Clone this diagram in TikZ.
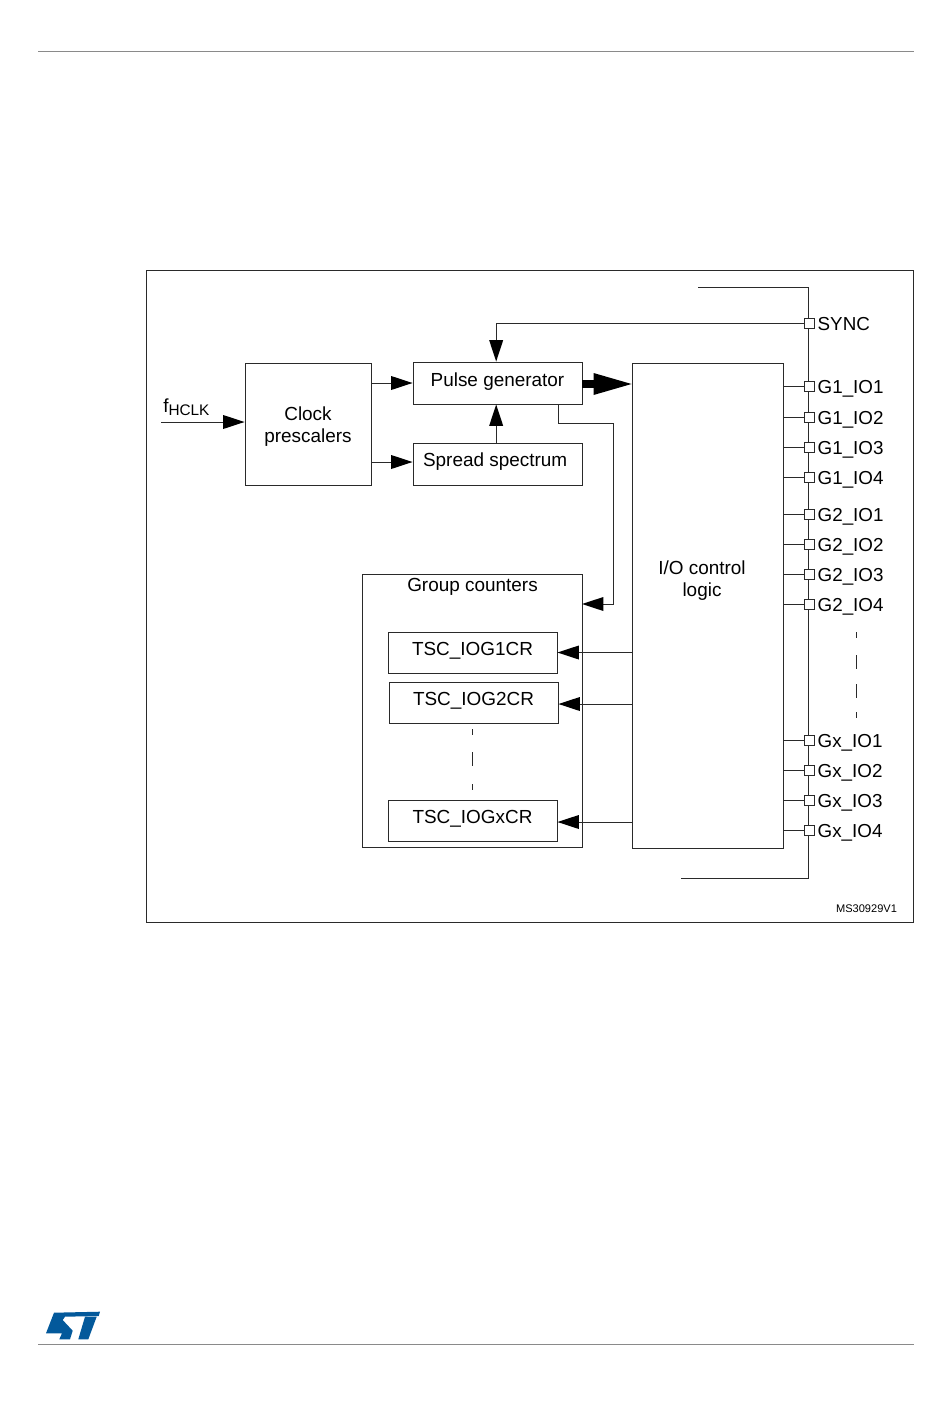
\documentclass[tikz,border=0pt]{standalone}
\usepackage{fontspec}
\setmainfont{Liberation Sans}
\usetikzlibrary{arrows.meta,positioning}
\definecolor{rulegray}{HTML}{8A8A8A}
\definecolor{stblue}{HTML}{03599B}
\definecolor{wiregray}{HTML}{2A2A2A}
\def\px{0.75pt}
\begin{document}
\begin{tikzpicture}[
  x=0.75pt, y=-0.75pt,
  block/.style={draw=wiregray, line width=0.7pt, fill=white, align=center, inner sep=0pt, font=\fontsize{14.2}{16.5}\selectfont},
  boxtext/.style={inner sep=0pt, align=center, font=\fontsize{14.2}{16.5}\selectfont},
  pad/.style={draw=wiregray, line width=0.6pt, fill=white, inner sep=0pt, minimum size=10*\px},
  padlabel/.style={inner sep=0pt, xshift=2.25pt, yshift=-2.25pt, font=\fontsize{14.1}{16.5}\selectfont},
  wire/.style={draw=wiregray, line width=0.75pt},
  arrow/.style={wire, -{Triangle[length=16pt, width=10.5pt, line width=0pt, black]}},
  busarrow/.style={draw=black, line width=5.5pt, -{Triangle[length=28.5pt, width=16.5pt, line width=0pt]}},
  gap/.style={wire, dash pattern=on 6*\px off 17*\px on 14*\px off 15*\px on 14*\px off 14*\px on 6*\px off 40*\px}
]
\useasboundingbox (0,0) rectangle (950,1420);
% page rules and frame
\draw[rulegray, line width=0.8pt] (38,51.5) -- (914,51.5);
\draw[rulegray, line width=0.8pt] (38,1344.5) -- (914,1344.5);
\draw[wiregray, line width=0.7pt] (146,270.5) rectangle (913.5,922);
% logo
\fill[stblue] (54,1312.7) -- (100,1311.7) -- (98.7,1316) -- (65,1316.7) -- (62.7,1320) -- (72.7,1330.7) -- (70,1339.3) -- (59.3,1339.3) -- (62,1333.3) -- (46,1333.3) -- cycle;
\fill[stblue] (85,1316.7) -- (96.7,1316.7) -- (88.3,1339.3) -- (78.3,1339.3) -- cycle;
% blocks
\node[block, minimum width=126*\px, minimum height=122*\px, text height=31pt] (clock) at (308,424) {Clock\\prescalers};
\node[block, minimum width=169*\px, minimum height=42*\px, text height=10pt, text depth=5pt] (pulse) at (497.5,383) {Pulse generator};
\node[block, minimum width=169*\px, minimum height=42*\px, text height=10pt, text depth=6pt] (spread) at (497.5,464) {Spread spectrum\hspace*{3.5pt}};
\node[block, minimum width=151*\px, minimum height=485*\px] (io) at (707.5,605.5) {};
\node[boxtext] (iotext) at (702,580.5) {I/O control\\logic};
\node[block, minimum width=220*\px, minimum height=273*\px] (group) at (472,710.5) {};
\node[boxtext] (grouptitle) at (472.5,586.5) {Group counters};
\node[block, minimum width=169*\px, minimum height=41*\px, text height=10pt, text depth=5pt] (tsca) at (472.5,652.5) {TSC\_IOG1CR};
\node[block, minimum width=169*\px, minimum height=41*\px, text height=10pt, text depth=5pt] (tscb) at (473.5,702.5) {TSC\_IOG2CR};
\node[block, minimum width=169*\px, minimum height=41*\px, text height=10pt, text depth=5pt] (tscx) at (472.5,820.5) {TSC\_IOGxCR};
% bus on the right
\coordinate (bustop) at (698,287);
\coordinate (busbot) at (681,878);
\draw[wire] (bustop) -- (808,287) -- (808,878) -- (busbot);
% pads
\node[pad, label={[padlabel, yshift=1.5pt]right:SYNC}] (sync) at (809,323) {};
\node[pad, label={[padlabel]right:G1\_IO1}] (gaa) at (809,386) {};
\node[pad, label={[padlabel]right:G1\_IO2}] (gab) at (809,417) {};
\node[pad, label={[padlabel]right:G1\_IO3}] (gac) at (809,447) {};
\node[pad, label={[padlabel]right:G1\_IO4}] (gad) at (809,477) {};
\node[pad, label={[padlabel]right:G2\_IO1}] (gba) at (809,514) {};
\node[pad, label={[padlabel]right:G2\_IO2}] (gbb) at (809,544) {};
\node[pad, label={[padlabel]right:G2\_IO3}] (gbc) at (809,574) {};
\node[pad, label={[padlabel]right:G2\_IO4}] (gbd) at (809,604) {};
\node[pad, label={[padlabel]right:Gx\_IO1}] (gxa) at (809,740) {};
\node[pad, label={[padlabel]right:Gx\_IO2}] (gxb) at (809,770) {};
\node[pad, label={[padlabel]right:Gx\_IO3}] (gxc) at (809,800) {};
\node[pad, label={[padlabel]right:Gx\_IO4}] (gxd) at (809,830) {};
\draw[wire] (gaa.west) -- (gaa.west -| io.east);
\draw[wire] (gab.west) -- (gab.west -| io.east);
\draw[wire] (gac.west) -- (gac.west -| io.east);
\draw[wire] (gad.west) -- (gad.west -| io.east);
\draw[wire] (gba.west) -- (gba.west -| io.east);
\draw[wire] (gbb.west) -- (gbb.west -| io.east);
\draw[wire] (gbc.west) -- (gbc.west -| io.east);
\draw[wire] (gbd.west) -- (gbd.west -| io.east);
\draw[wire] (gxa.west) -- (gxa.west -| io.east);
\draw[wire] (gxb.west) -- (gxb.west -| io.east);
\draw[wire] (gxc.west) -- (gxc.west -| io.east);
\draw[wire] (gxd.west) -- (gxd.west -| io.east);
% input clock
\coordinate (clkin) at (161,422);
\node[boxtext, anchor=south west] (fhclk) at (163,416) {f\raisebox{-0.35ex}{\fontsize{11.5}{14}\selectfont HCLK}};
\draw[arrow] (clkin) -- (clkin -| clock.west);
% signals
\draw[arrow] (clock.east |- pulse.west) -- (pulse.west);
\draw[arrow] ([yshift=1.5pt]clock.east |- spread.west) -- ([yshift=1.5pt]spread.west);
\draw[arrow] ([xshift=-1pt]spread.north) -- ([xshift=-1pt]pulse.south);
\draw[arrow] (sync.west) -| ([xshift=-1pt]pulse.north);
\draw[busarrow] ([yshift=-0.75pt]pulse.east) -- ([yshift=-0.75pt]pulse.east -| io.west);
\coordinate (fbstart) at (558,404);
\coordinate (fbturn) at (613,423);
\coordinate (fbend) at (582,604);
\draw[wire] (fbstart) |- (fbturn);
\draw[arrow] (fbturn) |- (fbend);
\draw[arrow] (io.west |- tsca.east) -- (tsca.east);
\draw[arrow] ([yshift=-1.5*\px]io.west |- tscb.east) -- ([yshift=-1.5*\px]tscb.east);
\draw[arrow] ([yshift=-1.5*\px]io.west |- tscx.east) -- ([yshift=-1.5*\px]tscx.east);
% broken lines
\coordinate (gapa) at (856,632);
\coordinate (gapb) at (856,718);
\coordinate (gapc) at (472,729);
\coordinate (gapd) at (472,790);
\draw[gap] (gapa) -- (gapb);
\draw[wire, dash pattern=on 6*\px off 17*\px on 14*\px off 18*\px on 6*\px off 40*\px] (gapc) -- (gapd);
% figure number
\node[inner sep=0pt, font=\fontsize{8.3}{10}\selectfont] (figno) at (866.5,909) {MS30929V1};
\end{tikzpicture}
\end{document}
